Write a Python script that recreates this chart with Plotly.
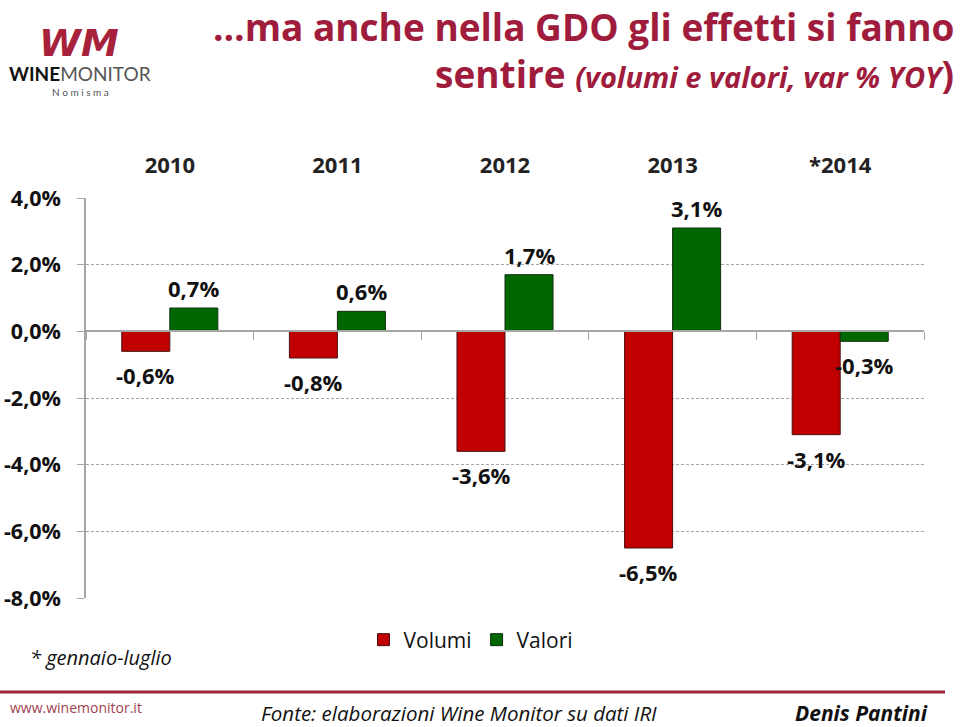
import plotly.graph_objects as go

years = ["2010", "2011", "2012", "2013", "*2014"]
volumi = [-0.6, -0.8, -3.6, -6.5, -3.1]
valori = [0.7, 0.6, 1.7, 3.1, -0.3]
y_ticks = [4, 2, 0, -2, -4, -6, -8]

FONT = "Open Sans"
L, R, T, B = 86, 36, 198, 129
W, H = 960, 727
PW, PH = W - L - R, H - T - B


def px(x):
    return (x - L) / PW


def py(y):
    return (H - B - y) / PH


def fmt(v):
    return f"{v:.1f}%".replace(".", ",")


fig = go.Figure()
fig.add_trace(go.Bar(
    x=years, y=volumi, name="Volumi",
    marker=dict(color="#C00000", line=dict(color="#4a1010", width=1)),
    hoverinfo="y",
))
fig.add_trace(go.Bar(
    x=years, y=valori, name="Valori",
    marker=dict(color="#006600", line=dict(color="#103010", width=1)),
    hoverinfo="y",
))
# invisible helper trace to carry the zero-line category axis
fig.add_trace(go.Scatter(x=years, y=[None] * len(years), xaxis="x2", yaxis="y",
                         showlegend=False, hoverinfo="skip", mode="markers"))

zero_pos = (0 - (-8)) / (4 - (-8))

fig.update_layout(
    width=W, height=H,
    margin=dict(l=L, r=R, t=T, b=B, autoexpand=False),
    paper_bgcolor="white", plot_bgcolor="white",
    barmode="group", bargap=0.427, bargroupgap=0,
    font=dict(family=FONT, color="#111111"),
    showlegend=True,
    legend=dict(orientation="h", x=px(471), xanchor="center", y=py(640), yanchor="middle",
                font=dict(family=FONT, size=21, color="#111111"),
                itemwidth=30, traceorder="normal"),
    xaxis=dict(type="category", categoryorder="array", categoryarray=years,
               side="top", showline=False, ticks="", showgrid=False, automargin=False,
               tickfont=dict(family=FONT, size=22, color="#222222", weight="bold"),
               ticklabelstandoff=20),
    xaxis2=dict(type="category", categoryorder="array", categoryarray=years,
                overlaying="x", matches="x", anchor="free", position=zero_pos, side="bottom",
                showline=True, linecolor="#a6a6a6", linewidth=1.5, automargin=False,
                ticks="outside", tickson="boundaries", ticklen=8, tickcolor="#a6a6a6",
                showticklabels=False, showgrid=False),
    yaxis=dict(range=[-8, 4], tickvals=y_ticks, ticktext=[fmt(v) for v in y_ticks],
               showline=True, linecolor="#a6a6a6", linewidth=1.5, automargin=False,
               ticks="outside", ticklen=7, tickcolor="#a6a6a6",
               showgrid=True, gridcolor="#a6a6a6", griddash="3px,2px", gridwidth=1,
               zeroline=False,
               tickfont=dict(family=FONT, size=21.5, color="#111111", weight="bold"),
               ticklabelstandoff=12),
)

annotations = []
# data labels, one per bar, placed beyond the bar end
for series, shift in ((volumi, -24), (valori, 24)):
    for i, v in enumerate(series):
        annotations.append(dict(
            x=i, y=v, xref="x", yref="y", xshift=shift,
            yshift=20 if v >= 0 else -24, yanchor="middle", xanchor="center",
            text=fmt(v), showarrow=False,
            font=dict(family=FONT, size=22, color="#111111", weight="bold"),
        ))

title_color = "#A01C3C"
paper_notes = [
    dict(x=px(956), y=py(26), xanchor="right", yanchor="middle",
         text="<b>…ma anche nella GDO gli effetti si fanno</b>",
         font=dict(family=FONT, size=37, color=title_color)),
    dict(x=px(956), y=py(73), xanchor="right", yanchor="middle",
         text="<b>sentire</b> <b><i><span style='font-size:29px'>(volumi e valori, var % YOY</span></i>)</b>",
         font=dict(family=FONT, size=37, color=title_color)),
    dict(x=px(28), y=py(657), xanchor="left", yanchor="middle",
         text="<i>* gennaio-luglio</i>",
         font=dict(family=FONT, size=20, color="#111111")),
    dict(x=px(8), y=py(707), xanchor="left", yanchor="middle",
         text="www.winemonitor.it",
         font=dict(family=FONT, size=14, color="#a04050")),
    dict(x=px(459), y=py(713), xanchor="center", yanchor="middle",
         text="<i>Fonte: elaborazioni Wine Monitor su dati IRI</i>",
         font=dict(family=FONT, size=20.5, color="#111111")),
    dict(x=px(930), y=py(713), xanchor="right", yanchor="middle",
         text="<b><i>Denis Pantini</i></b>",
         font=dict(family=FONT, size=21, color="#111111")),
    # logo
    dict(x=px(79), y=py(43), xanchor="center", yanchor="middle",
         text="<b><i>WM</i></b>",
         font=dict(family="DejaVu Sans", size=38, color="#A8213A")),
    dict(x=px(80), y=py(74), xanchor="center", yanchor="middle",
         text="<b>WINE</b><span style='color:#555555'>MONITOR</span>",
         font=dict(family="Lato", size=19, color="#111111")),
    dict(x=px(80), y=py(92), xanchor="center", yanchor="middle",
         text="N o m i s m a",
         font=dict(family="Lato", size=10, color="#555555")),
]
for a in paper_notes:
    a.update(xref="paper", yref="paper", showarrow=False)
annotations.extend(paper_notes)
fig.update_layout(annotations=annotations)

fig.add_shape(type="line", xref="paper", yref="paper",
              x0=px(0), x1=px(945), y0=py(692), y1=py(692),
              line=dict(color="#9B2335", width=3))

fig.write_html("out.html")
